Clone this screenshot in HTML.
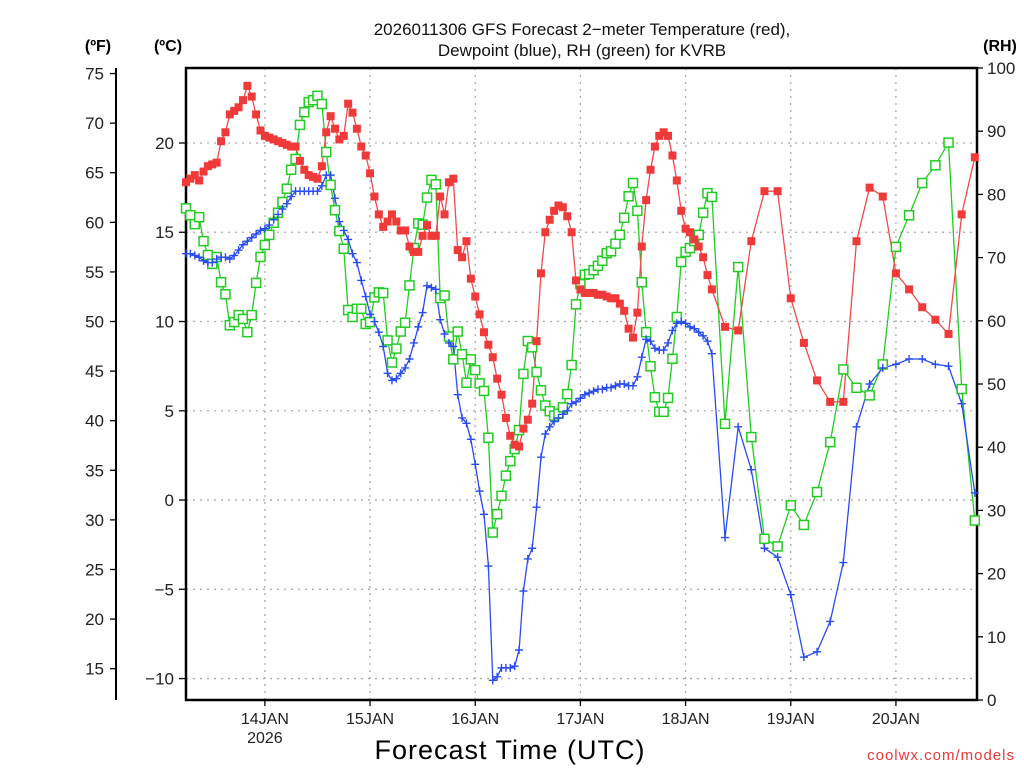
<!DOCTYPE html>
<html><head><meta charset="utf-8"><style>
html,body{margin:0;padding:0;background:#fff;}
svg text{font-family:"Liberation Sans","DejaVu Sans",sans-serif;}
</style></head><body>
<svg id="chart" width="1024" height="768" viewBox="0 0 1024 768" xmlns="http://www.w3.org/2000/svg">
<rect x="0" y="0" width="1024" height="768" fill="#fff"/>
<text x="582" y="35" text-anchor="middle" font-size="17" fill="#111">2026011306 GFS Forecast 2−meter Temperature (red),</text>
<text x="582" y="56" text-anchor="middle" font-size="17" fill="#111">Dewpoint (blue), RH (green) for KVRB</text>
<text x="98" y="51" text-anchor="middle" font-size="16" font-weight="bold" fill="#000">(ºF)</text>
<text x="168" y="51" text-anchor="middle" font-size="16" font-weight="bold" fill="#000">(ºC)</text>
<text x="1000" y="51" text-anchor="middle" font-size="16" font-weight="bold" fill="#000">(RH)</text>
<text x="510" y="759" text-anchor="middle" font-size="27" fill="#000" letter-spacing="1">Forecast Time (UTC)</text>
<text x="1015" y="760" text-anchor="end" font-size="15" fill="#e83a3a" letter-spacing="1">coolwx.com/models</text>
<g id="grid"></g>
<g id="axes"></g>
<g id="series"></g>
</svg>
<script>
const hours = [];
for (let h = 0; h <= 120; h++) hours.push(h);
for (let h = 123; h <= 180; h += 3) hours.push(h);

const tempC = [17.8,18.0,18.2,17.9,18.4,18.7,18.8,18.9,
20.1,20.6,21.6,21.8,22.0,22.4,23.2,22.6,
21.6,20.7,20.4,20.3,20.2,20.1,20.0,19.9,
19.8,19.8,19.0,18.5,18.2,18.1,18.0,18.7,
20.6,21.5,20.8,20.2,20.4,22.2,21.7,20.8,
19.8,19.3,
18.3,17.0,16.0,15.3,15.6,16.0,15.6,15.1,15.1,14.2,13.9,13.9,14.8,15.4,14.8,14.8,
17.0,16.0,17.8,18.0,14.0,13.6,14.5,12.4,11.4,10.4,9.4,8.7,8.0,6.8,5.9,4.6,
3.6,3.1,3.0,4.0,4.5,5.4,8.9,12.7,15.0,15.7,16.2,16.5,16.4,15.9,15.0,12.3,11.8,11.6,
11.6,11.6,11.5,11.5,11.4,11.3,
11.3,11.0,10.6,9.6,9.1,10.5,
14.2,16.8,18.5,19.8,20.4,20.6,20.4,19.3,
17.9,16.2,15.2,15.0,14.6,14.2,13.6,12.6,11.8,
9.7,9.5,14.5,17.3,17.3,11.3,8.8,6.7,5.5,5.5,14.5,17.5,17.0,12.7,11.8,10.8,10.1,9.3,16.0,19.2];

const dewC = [13.8,13.8,13.7,13.6,13.4,13.3,13.3,13.5,
13.6,13.6,13.5,13.7,14.0,14.3,14.5,14.7,
14.9,15.1,15.2,15.4,15.7,16.0,16.3,16.6,
17.0,17.3,17.3,17.3,17.3,17.3,17.3,17.6,
18.2,18.2,16.9,15.6,15.1,14.6,13.8,13.3,
12.3,11.4,
10.4,10.0,9.4,8.6,7.1,6.7,6.8,7.1,7.4,7.9,8.8,9.7,10.5,12.0,11.9,11.8,
10.1,9.3,8.8,8.6,5.9,4.6,4.3,3.4,2.0,0.5,-0.8,-3.7,-10.1,-9.9,-9.4,-9.4,
-9.4,-9.3,-8.4,-5.1,-3.3,-2.7,-0.4,2.4,3.7,4.1,4.4,4.6,4.8,5.0,5.4,5.5,5.7,5.9,
6.0,6.1,6.2,6.2,6.3,6.3,
6.4,6.5,6.5,6.4,6.4,6.9,
8.0,9.0,8.9,8.5,8.4,8.4,8.8,9.5,
9.9,10.0,9.9,9.7,9.6,9.4,9.2,8.9,8.2,
-2.1,4.1,1.7,-2.7,-3.2,-5.3,-8.8,-8.5,-6.8,-3.5,4.1,6.5,7.4,7.6,7.9,7.9,7.6,7.5,5.4,0.4];

const rh = [77.8,76.7,75.3,76.4,72.6,70.4,69.0,70.1,
66.1,64.2,59.3,59.8,60.9,60.3,58.2,60.9,
66.0,70.1,72.0,73.6,75.5,77.1,78.8,80.9,
83.9,85.6,91.0,93.0,94.6,94.9,95.6,94.3,
86.7,81.5,77.5,74.2,71.4,61.7,60.6,61.9,
61.9,59.5,
59.8,63.7,64.5,64.4,56.9,53.4,55.6,58.3,59.7,65.6,71.5,75.4,75.2,79.5,82.3,81.6,
63.6,64.0,57.5,53.9,58.3,54.7,50.2,53.9,52.2,50.1,48.9,41.5,26.5,29.4,32.3,35.5,
37.8,39.7,42.7,51.6,56.8,55.8,51.9,49.0,46.6,45.7,45.0,45.3,46.3,48.4,53.0,62.6,65.8,67.3,
67.4,68.0,68.7,69.5,70.7,71.0,
72.2,73.6,76.3,79.7,81.8,77.4,
66.1,58.2,52.8,47.9,45.6,45.6,47.8,54.0,
60.6,69.3,70.9,71.5,72.6,73.6,77.1,80.2,79.6,
43.7,68.5,41.6,25.5,24.3,30.8,27.7,32.9,40.8,52.3,49.4,48.2,53.1,71.7,76.7,81.8,84.6,88.2,49.2,28.4];

const cTicks = [-10,-5,0,5,10,15,20];
const fTicks = [15,20,25,30,35,40,45,50,55,60,65,70,75];
const rhTicks = [0,10,20,30,40,50,60,70,80,90,100];
const dayLabels = ["14JAN","15JAN","16JAN","17JAN","18JAN","19JAN","20JAN"];
const dayHours = [18,42,66,90,114,138,162];

const PX0=186, PX1=977, PY0=68, PY1=700;
const C_TOP=24.2, C_BOT=-11.2;
const xOf = h => PX0 + h*(PX1-PX0)/180.5;
const yC = c => PY0 + (C_TOP-c)*(PY1-PY0)/(C_TOP-C_BOT);
const yF = f => yC((f-32)*5/9);
const yRH = r => PY1 - r*(PY1-PY0)/100;

const NS="http://www.w3.org/2000/svg";
function mk(parent,tag,attrs){const e=document.createElementNS(NS,tag);for(const k in attrs)e.setAttribute(k,attrs[k]);parent.appendChild(e);return e;}
const grid=document.getElementById('grid'), axes=document.getElementById('axes'), ser=document.getElementById('series');

cTicks.forEach(c=>{
  const y=yC(c);
  const g=mk(grid,'line',{x1:PX0,x2:PX1,y1:y,y2:y,stroke:'#aaa','stroke-width':1.3,'stroke-dasharray':'2,5'});
  
  
  const t=mk(axes,'line',{x1:PX0-7,x2:PX0,y1:y,y2:y,stroke:'#000','stroke-width':1.3});
  
  
  const l=mk(axes,'text',{x:PX0-12,y:y+6,'text-anchor':'end','font-size':17,fill:'#222'});
  l.textContent=(c<0?'−':'')+Math.abs(c);
  
  
});
dayHours.forEach((h,i)=>{
  const x=xOf(h);
  const g=mk(grid,'line',{x1:x,x2:x,y1:PY0,y2:PY1,stroke:'#aaa','stroke-width':1.3,'stroke-dasharray':'2,5'});
  
  
  const t=mk(axes,'line',{x1:x,x2:x,y1:PY1,y2:PY1+6,stroke:'#000','stroke-width':1.3});
  
  
  const l=mk(axes,'text',{x:x,y:PY1+24,'text-anchor':'middle','font-size':16,fill:'#222'});
  l.textContent=dayLabels[i];
  
  
});
const yr=mk(axes,'text',{x:xOf(dayHours[0]),y:PY1+43,'text-anchor':'middle','font-size':16,fill:'#222'});
yr.textContent='2026';



const fl=mk(axes,'line',{x1:116,x2:116,y1:PY0,y2:PY1,stroke:'#000','stroke-width':2});


fTicks.forEach(f=>{
  const y=yF(f);
  const t=mk(axes,'line',{x1:110,x2:116,y1:y,y2:y,stroke:'#000','stroke-width':1.3});
  
  
  const l=mk(axes,'text',{x:104,y:y+6,'text-anchor':'end','font-size':17,fill:'#222'});
  l.textContent=f;
  
  
});
rhTicks.forEach(r=>{
  const y=yRH(r);
  const t=mk(axes,'line',{x1:PX1,x2:PX1+6,y1:y,y2:y,stroke:'#000','stroke-width':1.3});
  
  
  const l=mk(axes,'text',{x:PX1+10,y:y+6,'text-anchor':'start','font-size':17,fill:'#222'});
  l.textContent=r;
  
  
});
const frame=mk(axes,'rect',{x:PX0,y:PY0,width:PX1-PX0,height:PY1-PY0,fill:'none',stroke:'#000','stroke-width':2.5});



function line(vals,yf,color,name){
  const pts=vals.map((v,i)=>xOf(hours[i]).toFixed(1)+','+yf(v).toFixed(1)).join(' ');
  const p=mk(ser,'polyline',{points:pts,fill:'none',stroke:color,'stroke-width':1.3});
  
  
}
line(rh,yRH,'#22cc22','rh-line');
line(dewC,yC,'#2a4cf0','dewpoint-line');
line(tempC,yC,'#f04a4a','temperature-line');

rh.forEach((v,i)=>{
  const x=xOf(hours[i]), y=yRH(v);
  const m=mk(ser,'rect',{x:x-4.5,y:y-4.5,width:9,height:9,fill:'#fff',stroke:'#22cc22','stroke-width':1.5});
  
  
});
dewC.forEach((v,i)=>{
  const x=xOf(hours[i]), y=yC(v);
  const m=mk(ser,'path',{d:`M${x-4},${y}H${x+4}M${x},${y-4}V${y+4}`,stroke:'#2a4cf0','stroke-width':1.4,fill:'none'});
  
  
});
tempC.forEach((v,i)=>{
  const x=xOf(hours[i]), y=yC(v);
  const m=mk(ser,'rect',{x:x-4,y:y-4,width:8,height:8,fill:'#f03a3a'});
  
  
});
</script>
</body></html>
